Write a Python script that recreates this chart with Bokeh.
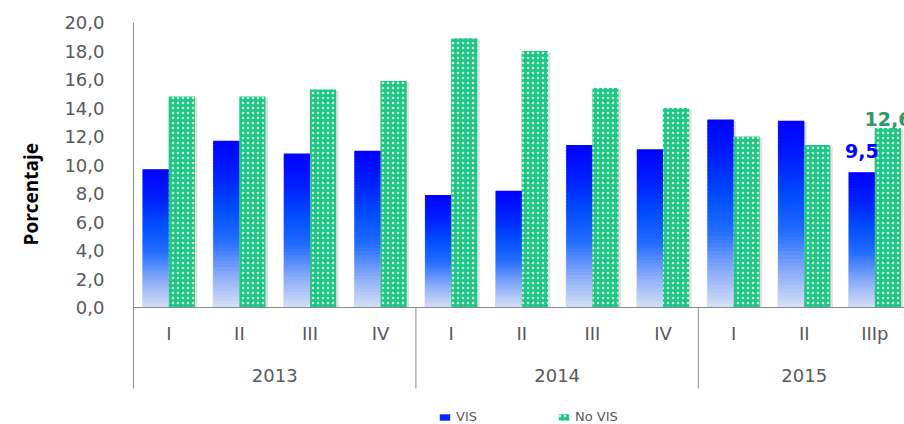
from bokeh.plotting import figure
from bokeh.models import ColumnDataSource, FixedTicker, Legend, LegendItem, Range1d, Title
from bokeh.core.properties import value
from bokeh.embed import file_html
from bokeh.resources import INLINE

# ---- data ----
quarters = ["I", "II", "III", "IV", "I", "II", "III", "IV", "I", "II", "IIIp"]
years = ["2013", "2014", "2015"]
year_sizes = [4, 4, 3]
vis = [9.7, 11.7, 10.8, 11.0, 7.9, 8.2, 11.4, 11.1, 13.2, 13.1, 9.5]
no_vis = [14.8, 14.8, 15.3, 15.9, 18.9, 18.0, 15.4, 14.0, 12.0, 11.4, 12.6]
y_ticks = [0, 2, 4, 6, 8, 10, 12, 14, 16, 18, 20]
series_names = ["VIS", "No VIS"]
y_title = "Porcentaje"

# ---- style ----
W, H = 904, 424
BAR_W = 0.37
X_END = 10.92
Y_BOTTOM = -8.21
SEP_BOTTOM = -5.68
AXIS_GREY = "#8C8C8C"
TEXT_GREY = "#595959"
GREEN_FILL = "#1CC78D"
GREEN_HATCH = "#D8EFBC"
LABEL_GREEN = "#2F9A66"

n = len(quarters)
centers = [i + 0.5 for i in range(n)]

p = figure(width=W, height=H, output_backend="svg", toolbar_location=None,
           x_range=Range1d(-0.0142, X_END), y_range=Range1d(Y_BOTTOM, 20),
           x_axis_location=None, min_border_left=132, min_border_right=0,
           min_border_top=22, min_border_bottom=0, outline_line_color=None,
           background_fill_color="white", border_fill_color="white")
p.grid.visible = False

# y axis
ya = p.yaxis[0]
ya.ticker = FixedTicker(ticks=y_ticks)
ya.major_label_overrides = {t: f"{t:.1f}".replace(".", ",") for t in y_ticks}
ya.axis_line_color = None
ya.major_tick_line_color = None
ya.minor_tick_line_color = None
ya.major_label_standoff = 22
ya.major_label_text_font = "DejaVu Sans"
ya.major_label_text_font_size = "18px"
ya.major_label_text_color = TEXT_GREY

# y title
p.add_layout(Title(text=y_title, align="left", offset=179, standoff=32, vertical_align="top",
                   text_font="Open Sans", text_font_style="bold",
                   text_font_size="19px", text_color="black"), "left")

# bar shadows
sh_src = ColumnDataSource(dict(
    left=[c - BAR_W - 0.01 for c in centers] + [c - 0.01 for c in centers],
    right=[c + 0.035 for c in centers] + [c + BAR_W + 0.035 for c in centers],
    top=[v - 0.1 for v in vis] + [v - 0.1 for v in no_vis],
))
p.quad(left="left", right="right", top="top", bottom=0, source=sh_src,
       fill_color="black", fill_alpha=0.12, line_color=None)

# VIS gradient bars (drawn as horizontal slices of each bar)
stops = [(0.0, (214, 224, 246)), (0.2, (135, 170, 250)), (0.4, (35, 110, 255)),
         (0.6, (0, 75, 255)), (0.8, (0, 30, 255)), (1.0, (0, 0, 255))]

def grad(t):
    for (t0, c0), (t1, c1) in zip(stops[:-1], stops[1:]):
        if t <= t1:
            f = (t - t0) / (t1 - t0)
            return "#%02x%02x%02x" % tuple(int(round(a + (b - a) * f)) for a, b in zip(c0, c1))
    return "#0000ff"

N = 50
slice_renderers = []
for k in range(N):
    r = p.quad(left=[c - BAR_W for c in centers], right=centers,
               bottom=[v * k / N for v in vis],
               top=[min(v, v * (k + 1.8) / N) for v in vis],
               fill_color=grad((k + 0.5) / N), line_color=None)
    slice_renderers.append(r)

# No VIS hatched bars
nv_src = ColumnDataSource(dict(left=centers, right=[c + BAR_W for c in centers], top=no_vis))
nv = p.quad(left="left", right="right", top="top", bottom=0, source=nv_src,
            fill_color=GREEN_FILL, line_color=None,
            hatch_pattern="dot", hatch_color=GREEN_HATCH, hatch_scale=5, hatch_weight=3)

# axis lines and group separators
bounds = [sum(year_sizes[:i + 1]) for i in range(len(years) - 1)]
p.segment(x0=[0, 0] + bounds, y0=[20, 0] + [0] * len(bounds),
          x1=[0, X_END] + bounds, y1=[SEP_BOTTOM, 0] + [SEP_BOTTOM] * len(bounds),
          line_color=AXIS_GREY, line_width=1)

# category labels
p.text(x=centers, y=[-1.82] * n, text=quarters, text_align="center", text_baseline="middle",
       text_font=value("DejaVu Sans"), text_font_size="18px", text_color=TEXT_GREY)
ycent = []
s = 0
for sz in year_sizes:
    ycent.append(s + sz / 2)
    s += sz
p.text(x=ycent, y=[-4.77] * len(years), text=years, text_align="center", text_baseline="middle",
       text_font=value("DejaVu Sans"), text_font_size="18px", text_color=TEXT_GREY)

# data labels for last category
fmt = lambda v: f"{v:.1f}".replace(".", ",")
p.text(x=[centers[-1] - BAR_W / 2], y=[vis[-1]], text=[fmt(vis[-1])], text_align="center",
       text_baseline="bottom", y_offset=-14, text_font=value("DejaVu Sans"),
       text_font_style="bold", text_font_size="19px", text_color="#0000FF")
p.text(x=[centers[-1] + BAR_W / 2], y=[no_vis[-1]], text=[fmt(no_vis[-1])], text_align="center",
       text_baseline="bottom", y_offset=-2, text_font=value("DejaVu Sans"),
       text_font_style="bold", text_font_size="19px", text_color=LABEL_GREEN)

# legend
legend = Legend(items=[LegendItem(label=series_names[0], renderers=[slice_renderers[int(N * 0.75)]]),
                       LegendItem(label=series_names[1], renderers=[nv])],
                orientation="horizontal", location=(306, 0), padding=0, margin=0,
                glyph_width=13, glyph_height=8, label_standoff=5, spacing=80,
                border_line_color=None, background_fill_alpha=0,
                label_text_font="DejaVu Sans", label_text_font_size="13px",
                label_text_color=TEXT_GREY)
p.add_layout(legend)

open("out.html", "w").write(file_html(p, INLINE))
